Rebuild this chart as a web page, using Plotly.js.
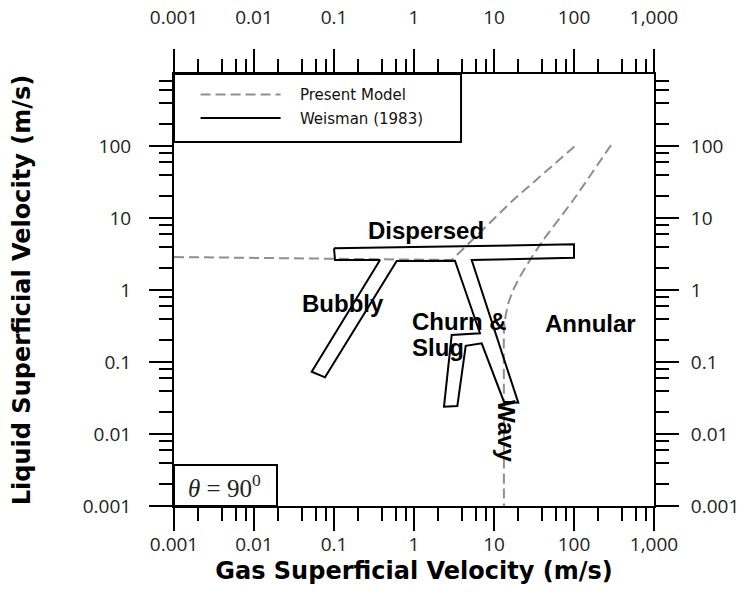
<!DOCTYPE html>
<html>
<head>
<meta charset="utf-8">
<script src="https://cdn.plot.ly/plotly-3.0.1.min.js"></script>
<style>
  html, body { margin: 0; padding: 0; background: #fff; }
  #chart { width: 744px; height: 611px; }
</style>
</head>
<body>
<div id="chart"></div>
<script>
// Axis ticks (shared by the bottom/top and left/right log axes)
const xTickVals = [0.001, 0.01, 0.1, 1, 10, 100, 1000];
const xTickText = ['0.001', '0.01', '0.1', '1', '10', '100', '1,000'];
const yTickVals = [0.001, 0.01, 0.1, 1, 10, 100];
const yTickText = ['0.001', '0.01', '0.1', '1', '10', '100'];
const minorTickVals = [
  0.002, 0.004, 0.006, 0.008,
  0.02, 0.04, 0.06, 0.08,
  0.2, 0.4, 0.6, 0.8,
  2, 4, 6, 8,
  20, 40, 60, 80,
  200, 400, 600, 800
];

// Present model: bubbly/dispersed -> churn boundary (gas, liquid superficial velocity in m/s)
const modelChurnX = [0.001, 2.96, 17.4, 103];
const modelChurnY = [2.87, 2.61, 17.8, 100];

// Present model: annular boundary
const modelAnnularX = [290, 98, 41.3, 28.2, 21.1, 17.4, 15.1, 13.7, 13.3, 13.3, 13.3];
const modelAnnularY = [103, 17.8, 4.95, 2.61, 1.53, 1.0, 0.653, 0.383, 0.251, 0.0297, 0.001];

// Weisman (1983) transition bands, traced as one closed outline
const weismanX = [0.1, 100, 100, 5.26, 20.1, 13.3, 7.02, 4.43, 3.48, 2.37, 2.96, 6.68, 3.25, 0.608, 0.0772, 0.0526, 0.376, 0.103, 0.1];
const weismanY = [3.79, 4.31, 2.81, 2.61, 0.0272, 0.0281, 0.182, 0.168, 0.0245, 0.0239, 0.237, 0.251, 2.55, 2.53, 0.0613, 0.0733, 2.61, 2.61, 3.79];

const modelColor = '#8f8f8f';
const tickFont = { family: 'Open Sans, Noto Sans, sans-serif', size: 19, color: '#222' };
const titleFont = { family: 'DejaVu Sans, sans-serif', size: 24, color: '#000' };
const regionFont = { family: 'Liberation Sans, Arial, sans-serif', size: 24, color: '#000' };
const legendGap = '\u00a0\u00a0\u00a0';

const traces = [
  {
    x: modelChurnX, y: modelChurnY, mode: 'lines', name: legendGap + 'Present Model',
    legendgroup: 'model', legendrank: 1,
    line: { color: modelColor, width: 2, dash: '10px,5px' }
  },
  {
    x: modelAnnularX, y: modelAnnularY, mode: 'lines', name: 'Present Model',
    legendgroup: 'model', showlegend: false,
    line: { color: modelColor, width: 2, dash: '10px,5px', shape: 'spline', smoothing: 0.6 }
  },
  {
    x: weismanX, y: weismanY, mode: 'lines', name: legendGap + 'Weisman (1983)',
    legendgroup: 'weisman', legendrank: 2,
    line: { color: '#000', width: 2 }
  },
  // keeps the mirrored top/right axes alive
  { x: [], y: [], xaxis: 'x2', yaxis: 'y2', mode: 'lines', showlegend: false, hoverinfo: 'skip' }
];

const axisCommon = {
  type: 'log', range: [-3, 3], autorange: false,
  ticks: 'outside', ticklen: 23, tickwidth: 2, tickcolor: '#000',
  showline: true, linewidth: 2, linecolor: '#000',
  showgrid: false, zeroline: false,
  tickfont: tickFont,
  minor: { tickmode: 'array', tickvals: minorTickVals, ticks: 'outside', ticklen: 13, tickwidth: 2, tickcolor: '#000', showgrid: false }
};

function label(text, x, y, extra) {
  return Object.assign({
    text: text, xref: 'paper', yref: 'paper', x: x, y: y,
    xanchor: 'center', yanchor: 'middle', showarrow: false, font: regionFont
  }, extra || {});
}

const layout = {
  width: 744, height: 611,
  margin: { l: 174, r: 90, t: 74, b: 105, pad: 0 },
  paper_bgcolor: '#fff', plot_bgcolor: '#fff',
  showlegend: true,
  xaxis: Object.assign({}, axisCommon, {
    tickmode: 'array', tickvals: xTickVals, ticktext: xTickText,
    ticklabelstandoff: -3,
    title: { text: '<b>Gas Superficial Velocity (m/s)</b>', font: titleFont, standoff: 0 }
  }),
  xaxis2: Object.assign({}, axisCommon, {
    overlaying: 'x', side: 'top', anchor: 'y2',
    tickmode: 'array', tickvals: xTickVals, ticktext: xTickText,
    ticklabelstandoff: 17
  }),
  yaxis: Object.assign({}, axisCommon, {
    tickmode: 'array', tickvals: yTickVals, ticktext: yTickText,
    ticklabelstandoff: 14,
    title: { text: '<b>Liquid Superficial Velocity (m/s)</b>', font: titleFont, standoff: 45 }
  }),
  yaxis2: Object.assign({}, axisCommon, {
    overlaying: 'y', side: 'right', anchor: 'x2',
    tickmode: 'array', tickvals: yTickVals, ticktext: yTickText,
    ticklabelstandoff: 8
  }),
  legend: {
    x: 0.045, y: 0.99, xanchor: 'left', yanchor: 'top',
    bgcolor: 'rgba(0,0,0,0)', borderwidth: 0,
    font: { family: 'DejaVu Sans, sans-serif', size: 15, color: '#111' },
    itemwidth: 80, tracegroupgap: 1, traceorder: 'grouped'
  },
  shapes: [
    // legend frame
    { type: 'rect', xref: 'paper', yref: 'paper', x0: 0, x1: 0.598, y0: 0.8426, y1: 1.0,
      line: { color: '#000', width: 2 }, fillcolor: 'rgba(0,0,0,0)' },
    // inclination frame
    { type: 'rect', xref: 'paper', yref: 'paper', x0: 0, x1: 0.2146, y0: 0, y1: 0.0949,
      line: { color: '#000', width: 2 }, fillcolor: 'rgba(0,0,0,0)' }
  ],
  annotations: [
    label('<b>Dispersed</b>', 0.525, 0.6366),
    label('<b>Bubbly</b>', 0.352, 0.4676),
    label('<b>Churn &amp;</b>', 0.4917, 0.4282, { xanchor: 'left' }),
    label('<b>Slug</b>', 0.4917, 0.368, { xanchor: 'left' }),
    label('<b>Annular</b>', 0.8667, 0.4236),
    label('<b>Wavy</b>', 0.6938, 0.1736, { textangle: 90 }),
    label('<i>θ</i> = 90<sup>0</sup>', 0.106, 0.046,
      { font: { family: 'Liberation Serif, DejaVu Serif, serif', size: 25, color: '#222' } })
  ]
};

Plotly.newPlot('chart', traces, layout, { displayModeBar: false, staticPlot: true });
</script>
</body>
</html>
